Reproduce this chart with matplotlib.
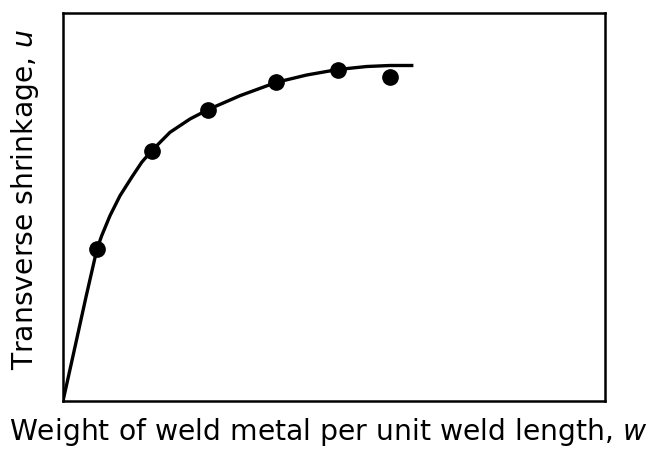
import matplotlib
matplotlib.use("Agg")
import matplotlib.pyplot as plt

# curve (arbitrary units, 0..100 on both axes)
curve_w = [0, 2.21, 4.24, 6.27, 7.14, 8.67, 10.52, 12.68, 14.52, 16.37, 19.74,
           23.43, 26.81, 32.66, 39.39, 44.96, 50.74, 56.03, 60.33, 64.34]
curve_u = [0, 13.92, 26.80, 39.18, 42.60, 47.76, 52.91, 57.66, 61.52, 64.51, 69.25,
           72.68, 75.13, 78.69, 82.14, 84.02, 85.44, 86.21, 86.47, 86.47]

# measured points
pts_w = [6.27, 16.42, 26.81, 39.39, 50.74, 60.33]
pts_u = [39.05, 64.51, 75.0, 82.14, 85.39, 83.59]

plt.rcParams["font.family"] = ["DejaVu Sans"]
plt.rcParams["mathtext.fontset"] = "dejavusans"

fig = plt.figure(figsize=(6.48, 4.56), dpi=100)
ax = fig.add_axes([63 / 648, 1 - 402 / 456, (605 - 63) / 648, (402 - 14) / 456])

ax.plot(curve_w, curve_u, color="black", lw=2.4, solid_joinstyle="round")
ax.plot(pts_w, pts_u, "o", color="black", markersize=11)

ax.set_xlim(0, 100)
ax.set_ylim(0, 100)
ax.set_xticks([])
ax.set_yticks([])
for s in ax.spines.values():
    s.set_linewidth(1.8)

ax.set_xlabel("Weight of weld metal per unit weld length, $\\it{w}$", fontsize=20.3)
ax.set_ylabel("Transverse shrinkage, $\\it{u}$", fontsize=20.3)
ax.xaxis.set_label_coords(0.49, -0.037)
ax.yaxis.set_label_coords(-0.04, 0.523)

fig.savefig("out.png", dpi=100)
